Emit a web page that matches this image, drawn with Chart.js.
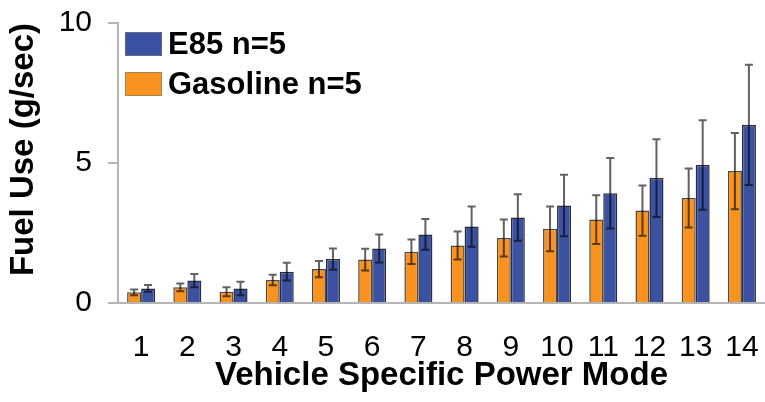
<!DOCTYPE html>
<html>
<head>
<meta charset="utf-8">
<script src="https://cdn.jsdelivr.net/npm/chart.js@4/dist/chart.umd.min.js"></script>
<style>
  html, body { margin: 0; padding: 0; background: #fff; }
  #wrap { width: 765px; height: 402px; }
</style>
</head>
<body>
<div id="wrap"><canvas id="c"></canvas></div>
<script>
// VSP modes
const modes = ['1', '2', '3', '4', '5', '6', '7', '8', '9', '10', '11', '12', '13', '14'];

// mean fuel use, g/sec
const gasoline = [0.38, 0.56, 0.40, 0.82, 1.21, 1.55, 1.83, 2.05, 2.32, 2.65, 2.98, 3.30, 3.75, 4.71];
const e85 = [0.52, 0.80, 0.52, 1.12, 1.57, 1.95, 2.45, 2.73, 3.05, 3.48, 3.92, 4.46, 4.93, 6.36];

// standard deviation (error bars)
const gasolineSd = [0.10, 0.14, 0.16, 0.19, 0.29, 0.39, 0.44, 0.50, 0.66, 0.80, 0.87, 0.90, 1.05, 1.36];
const e85Sd = [0.12, 0.24, 0.24, 0.32, 0.38, 0.50, 0.55, 0.72, 0.83, 1.10, 1.26, 1.39, 1.60, 2.15];

const yTicks = [0, 5, 10];

const FONT = '"Liberation Sans", Arial, sans-serif';

// error bars drawn on top of the bars
const errorBars = {
  id: 'errorBars',
  afterDatasetsDraw(chart) {
    const ctx = chart.ctx;
    const y = chart.scales.y;
    chart.data.datasets.forEach((ds, di) => {
      const meta = chart.getDatasetMeta(di);
      meta.data.forEach((bar, i) => {
        const v = ds.data[i];
        const sd = ds.sd[i];
        const top = y.getPixelForValue(v + sd);
        const bot = y.getPixelForValue(v - sd);
        ctx.save();
        ctx.strokeStyle = 'rgba(0,0,0,0.62)';
        ctx.lineWidth = 2;
        ctx.beginPath();
        ctx.moveTo(bar.x, top);
        ctx.lineTo(bar.x, bot);
        ctx.moveTo(bar.x - 4, top);
        ctx.lineTo(bar.x + 4, top);
        ctx.moveTo(bar.x - 4, bot);
        ctx.lineTo(bar.x + 4, bot);
        ctx.stroke();
        ctx.restore();
      });
    });
  }
};

// legend inside the plot, E85 listed first
const innerLegend = {
  id: 'innerLegend',
  afterDraw(chart) {
    const ctx = chart.ctx;
    const area = chart.chartArea;
    const items = chart.data.datasets.slice().reverse();
    ctx.save();
    ctx.font = 'bold 31px ' + FONT;
    ctx.textBaseline = 'middle';
    items.forEach((ds, k) => {
      const bx = area.left + 7;
      const by = area.top + 9 + k * 40;
      ctx.fillStyle = ds.backgroundColor;
      ctx.fillRect(bx, by, 37, 24);
      ctx.strokeStyle = 'rgba(120,120,120,0.6)';
      ctx.lineWidth = 1;
      ctx.strokeRect(bx + 0.5, by + 0.5, 36, 23);
      ctx.fillStyle = '#000';
      ctx.fillText(ds.label, bx + 43, by + 13);
    });
    ctx.restore();
  }
};

new Chart(document.getElementById('c'), {
  type: 'bar',
  data: {
    labels: modes,
    datasets: [
      {
        label: 'Gasoline n=5',
        data: gasoline,
        sd: gasolineSd,
        backgroundColor: '#F7931E',
        borderColor: 'rgba(50,40,30,0.85)',
        borderWidth: 1.5
      },
      {
        label: 'E85 n=5',
        data: e85,
        sd: e85Sd,
        backgroundColor: '#3B52A3',
        borderColor: 'rgba(20,20,40,0.9)',
        borderWidth: 1.5
      }
    ]
  },
  options: {
    responsive: true,
    maintainAspectRatio: false,
    animation: false,
    layout: { padding: { top: 23, right: 0, bottom: 0, left: 0 } },
    datasets: {
      bar: { categoryPercentage: 0.606, barPercentage: 1.0 }
    },
    plugins: {
      legend: { display: false },
      tooltip: { enabled: false }
    },
    scales: {
      x: {
        grid: { display: false, drawTicks: false },
        border: { display: true, color: '#b5b5b5', width: 2 },
        ticks: {
          color: '#000',
          font: { family: FONT, size: 30 },
          padding: 27,
          maxRotation: 0,
          autoSkip: false
        },
        title: {
          display: true,
          text: 'Vehicle Specific Power Mode',
          color: '#000',
          font: { family: FONT, size: 33, weight: 'bold' },
          padding: { top: 0, bottom: 6 }
        },
        afterFit(scale) {
          scale.height = 99;
          scale.paddingLeft = 0;
          scale.paddingRight = 0;
        }
      },
      y: {
        min: 0,
        max: 10,
        afterBuildTicks(scale) { scale.ticks = yTicks.map(v => ({ value: v })); },
        grid: { drawOnChartArea: false, drawTicks: true, tickLength: 10, color: '#b5b5b5', lineWidth: 2 },
        border: { display: true, color: '#b5b5b5', width: 2 },
        ticks: {
          color: '#000',
          font: { family: FONT, size: 30 },
          padding: 16
        },
        title: {
          display: true,
          text: 'Fuel Use (g/sec)',
          align: 'end',
          color: '#000',
          font: { family: FONT, size: 33, weight: 'bold' },
          padding: { top: 4, bottom: 0 }
        },
        afterFit(scale) {
          scale.width = 118;
          scale.paddingTop = 0;
          scale.paddingBottom = 0;
        }
      }
    }
  },
  plugins: [errorBars, innerLegend]
});
</script>
</body>
</html>
